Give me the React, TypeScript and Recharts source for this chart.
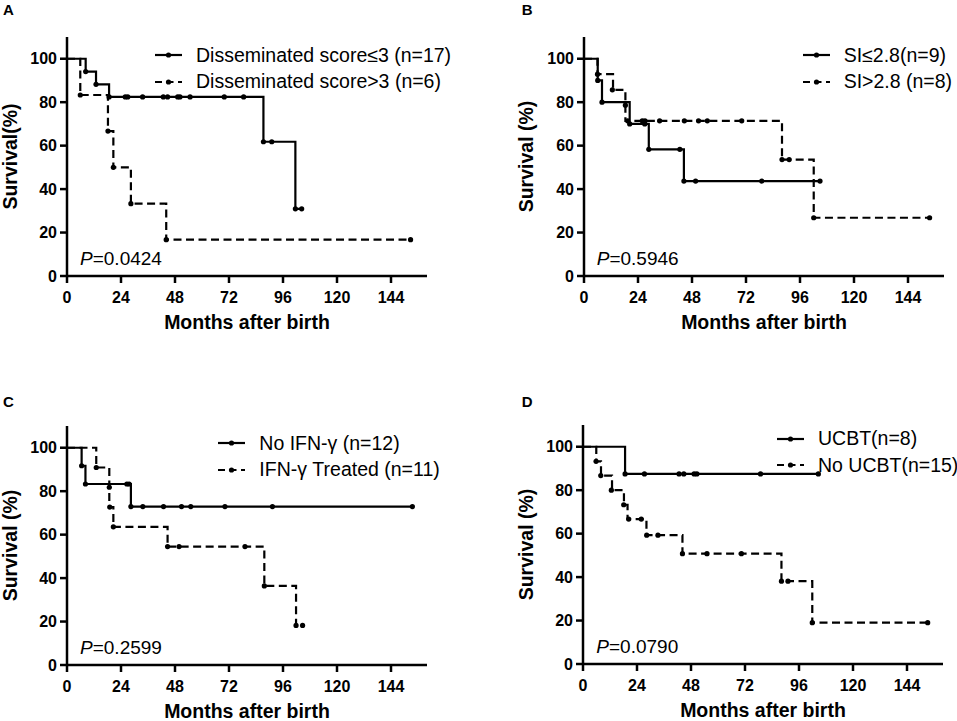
import React from 'react';
import { ComposedChart, Line, Scatter, XAxis, YAxis, Legend } from 'recharts';

const FONT = "'Liberation Sans', Arial, Helvetica, sans-serif";

// ---------- shared ticks ----------
const monthTicks = [0, 24, 48, 72, 96, 120, 144];
const survivalTicks = [0, 20, 40, 60, 80, 100];

type Pt = [number, number];

// ---------- Panel A ----------
const aLowSteps: Pt[] = [[0, 100], [8.3, 94.1], [12.9, 88.2], [18.7, 82.4], [87.3, 61.8], [101.5, 30.9], [104.3, 30.9]];
const aLowMarks: Pt[] = [[8.3, 94.1], [12.9, 88.2], [18.7, 82.4], [25.9, 82.4], [27.0, 82.4], [33.6, 82.4], [42.8, 82.4], [44.7, 82.4], [49.2, 82.4], [50.2, 82.4], [54.7, 82.4], [69.9, 82.4], [78.5, 82.4], [87.3, 61.8], [91.0, 61.8], [101.5, 30.9], [104.3, 30.9]];
const aHighSteps: Pt[] = [[0, 100], [5.9, 83.3], [18.2, 66.7], [20.6, 50], [28.4, 33.3], [44.1, 16.7], [152.7, 16.7]];
const aHighMarks: Pt[] = [[5.9, 83.3], [18.2, 66.7], [20.6, 50], [28.4, 33.3], [44.1, 16.7], [152.7, 16.7]];

// ---------- Panel B ----------
const bLowSteps: Pt[] = [[0, 100], [6.1, 90], [8.0, 80], [20.3, 70], [28.8, 58.3], [44.4, 43.7], [104.9, 43.7]];
const bLowMarks: Pt[] = [[6.1, 90], [8.0, 80], [20.3, 70], [27.0, 70], [28.8, 58.3], [42.6, 58.3], [44.4, 43.7], [49.6, 43.7], [79.0, 43.7], [104.9, 43.7]];
const bHighSteps: Pt[] = [[0, 100], [6.0, 92.9], [12.9, 85.7], [18.4, 71.4], [88.0, 53.6], [102.1, 26.8], [153.6, 26.8]];
const bHighMarks: Pt[] = [[6.0, 92.9], [12.6, 85.7], [18.4, 78.6], [19.4, 71.4], [25.9, 71.4], [27.1, 71.4], [33.6, 71.4], [44.6, 71.4], [50.9, 71.4], [54.8, 71.4], [70.1, 71.4], [88.0, 53.6], [91.2, 53.6], [102.1, 26.8], [153.6, 26.8]];

// ---------- Panel C ----------
const cNoSteps: Pt[] = [[0, 100], [6.5, 91.7], [8.2, 83.3], [28.4, 72.9], [153.5, 72.9]];
const cNoMarks: Pt[] = [[6.5, 91.7], [8.2, 83.3], [26.6, 83.3], [27.6, 83.3], [28.4, 72.9], [33.7, 72.9], [42.9, 72.9], [50.9, 72.9], [55.0, 72.9], [70.2, 72.9], [91.3, 72.9], [153.5, 72.9]];
const cIfnSteps: Pt[] = [[0, 100], [13.0, 90.9], [18.8, 72.7], [20.6, 63.6], [44.7, 54.5], [87.7, 36.4], [101.8, 18.2], [104.7, 18.2]];
const cIfnMarks: Pt[] = [[13.0, 90.9], [18.8, 81.8], [19.0, 72.7], [20.6, 63.6], [44.7, 54.5], [49.8, 54.5], [79.1, 54.5], [87.7, 36.4], [101.8, 18.2], [104.7, 18.2]];

// ---------- Panel D ----------
const dUcbtSteps: Pt[] = [[0, 100], [18.7, 87.5], [104.6, 87.5]];
const dUcbtMarks: Pt[] = [[18.7, 87.5], [27.3, 87.5], [42.7, 87.5], [44.8, 87.5], [49.4, 87.5], [50.6, 87.5], [78.9, 87.5], [104.6, 87.5]];
const dNoSteps: Pt[] = [[0, 100], [5.9, 93.3], [8.0, 86.7], [12.9, 80], [18.2, 73.3], [19.8, 66.7], [28.2, 59.3], [44.2, 50.8], [88.2, 38.1], [101.9, 19.0], [153.2, 19.0]];
const dNoMarks: Pt[] = [[5.8, 93.3], [7.9, 86.7], [12.6, 80], [18.1, 73.3], [20.3, 66.7], [25.9, 66.7], [28.3, 59.3], [33.3, 59.3], [44.2, 50.8], [55.1, 50.8], [70.4, 50.8], [88.2, 38.1], [91.1, 38.1], [101.9, 19.0], [153.2, 19.0]];

// ---------- labels ----------
const panelLetters = ['A', 'B', 'C', 'D'];
const yTitles = ['Survival(%)', 'Survival (%)', 'Survival (%)', 'Survival (%)'];
const xTitle = 'Months after birth';
const pValues = ['0.0424', '0.5946', '0.2599', '0.0790'];
const seriesNames = [
  ['Disseminated score≤3 (n=17)', 'Disseminated score>3 (n=6)'],
  ['SI≤2.8(n=9)', 'SI>2.8 (n=8)'],
  ['No IFN-γ (n=12)', 'IFN-γ Treated (n=11)'],
  ['UCBT(n=8)', 'No UCBT(n=15)'],
];

const toRows = (pts: Pt[]) => pts.map(([x, y]) => ({ x, y }));

interface SeriesDef { name: string; steps: Pt[]; marks: Pt[]; dashed: boolean }
interface PanelDef {
  letter: string; yTitle: string; p: string; series: SeriesDef[];
  ox: number; oy: number; legendLeft: number; legendTop: number;
  letterX: number; letterY: number; yTitleX: number;
}

const stepSets: [Pt[], Pt[], Pt[], Pt[]][] = [
  [aLowSteps, aLowMarks, aHighSteps, aHighMarks],
  [bLowSteps, bLowMarks, bHighSteps, bHighMarks],
  [cNoSteps, cNoMarks, cIfnSteps, cIfnMarks],
  [dUcbtSteps, dUcbtMarks, dNoSteps, dNoMarks],
];

// extra room at the left of every chart so the rotated axis title is never clipped
const PAD = 24;

const layout = [
  { ox: 0, oy: 0, legendLeft: 155, legendTop: 41.5, letterX: 3, letterY: 2.3, yTitleX: 17 },
  { ox: 516.7, oy: 0, legendLeft: 286, legendTop: 41.5, letterX: 521.7, letterY: 2.3, yTitleX: 16 },
  { ox: 0, oy: 389, legendLeft: 218.3, legendTop: 40.5, letterX: 3, letterY: 394, yTitleX: 17 },
  { ox: 516.3, oy: 388.3, legendLeft: 260.7, legendTop: 37, letterX: 521.7, letterY: 394, yTitleX: 16.6 },
];

const panels: PanelDef[] = panelLetters.map((letter, i) => ({
  letter,
  yTitle: yTitles[i],
  p: pValues[i],
  series: [
    { name: seriesNames[i][0], steps: stepSets[i][0], marks: stepSets[i][1], dashed: false },
    { name: seriesNames[i][1], steps: stepSets[i][2], marks: stepSets[i][3], dashed: true },
  ],
  ...layout[i],
}));

const CHART_W = 440 + PAD;
const CHART_H = 332;
const MARGIN = { top: 37, right: 13, left: 27 + PAD, bottom: 26 };
const Y_AXIS_W = 40;
const X_AXIS_H = 30;
const DASH = '8 4.5';

const axisStroke = { stroke: '#000', strokeWidth: 2.5 };
const tickFont = { fill: '#000', fontSize: 16, fontWeight: 'bold' as const, fontFamily: FONT };

const renderMark = (props: any) => {
  const { cx, cy } = props;
  if (cx == null || cy == null) return <g />;
  return <circle cx={cx} cy={cy} r={2.6} fill="#000" />;
};

function LegendBox({ series }: { series: SeriesDef[] }) {
  return (
    <div style={{ fontFamily: FONT, fontSize: 19.5, color: '#000' }}>
      {series.map((s) => (
        <div key={s.name} style={{ display: 'flex', alignItems: 'center', height: 26.7, whiteSpace: 'nowrap' }}>
          <svg width={27} height={10} style={{ marginRight: 14, flex: 'none' }}>
            <line x1={0} y1={5} x2={27} y2={5} stroke="#000" strokeWidth={2.2} strokeDasharray={s.dashed ? '7 4.5' : undefined} />
            <circle cx={13.5} cy={5} r={2.6} fill="#000" />
          </svg>
          <span style={{ lineHeight: '26.7px' }}>{s.name}</span>
        </div>
      ))}
    </div>
  );
}

function Panel({ def }: { def: PanelDef }) {
  const plotLeft = MARGIN.left + Y_AXIS_W;
  const plotW = CHART_W - MARGIN.right - plotLeft;
  const plotTop = MARGIN.top;
  const plotBottom = CHART_H - MARGIN.bottom - X_AXIS_H;
  const tx = def.yTitleX + PAD;
  const yc = (plotTop + plotBottom) / 2;
  const XTitle = () => (
    <text x={plotLeft + plotW / 2} y={plotBottom + 53.3} textAnchor="middle" fill="#000"
      style={{ fontFamily: FONT, fontSize: 19.5, fontWeight: 'bold' }}>{xTitle}</text>
  );
  const YTitle = () => (
    <text x={tx} y={yc} transform={`rotate(-90, ${tx}, ${yc})`} textAnchor="middle" fill="#000"
      style={{ fontFamily: FONT, fontSize: 19.5, fontWeight: 'bold' }}>{def.yTitle}</text>
  );
  return (
    <div style={{ position: 'absolute', left: def.ox - PAD, top: def.oy, width: CHART_W, height: CHART_H }}>
      <ComposedChart width={CHART_W} height={CHART_H} margin={MARGIN}>
        <XAxis type="number" dataKey="x" domain={[0, 160]} ticks={monthTicks} interval={0} allowDataOverflow
          tick={tickFont} tickSize={7} tickMargin={9} height={X_AXIS_H}
          axisLine={axisStroke} tickLine={axisStroke} label={{ content: XTitle }} />
        <YAxis type="number" dataKey="y" domain={[0, 110]} ticks={survivalTicks} interval={0} allowDataOverflow
          tick={tickFont} tickSize={7} tickMargin={3} width={Y_AXIS_W}
          axisLine={axisStroke} tickLine={axisStroke} label={{ content: YTitle }} />
        {def.series.map((s) => (
          <Line key={'l' + s.name} name={s.name} data={toRows(s.steps)} dataKey="y" type="stepAfter"
            stroke="#000" strokeWidth={2.2} strokeDasharray={s.dashed ? DASH : undefined}
            dot={false} activeDot={false} isAnimationActive={false} />
        ))}
        {def.series.map((s) => (
          <Scatter key={'s' + s.name} name={s.name + ' marks'} data={toRows(s.marks)} dataKey="y"
            fill="#000" shape={renderMark} isAnimationActive={false} />
        ))}
        <Legend layout="vertical" align="center" verticalAlign="middle"
          wrapperStyle={{ left: def.legendLeft + PAD, top: def.legendTop, width: 300, height: 56 }}
          content={() => <LegendBox series={def.series} />} />
      </ComposedChart>
      <div style={{ position: 'absolute', left: 80 + PAD, top: 248.9, fontFamily: FONT, fontSize: 19, lineHeight: '19px', color: '#000', whiteSpace: 'nowrap' }}>
        <i>P</i>={def.p}
      </div>
    </div>
  );
}

export default function App() {
  return (
    <div style={{ position: 'absolute', left: 0, top: 0, width: 957, height: 721, overflow: 'hidden', background: '#fff' }}>
      {panels.map((p) => <Panel key={p.letter} def={p} />)}
      {panels.map((p) => (
        <div key={'letter' + p.letter} style={{ position: 'absolute', left: p.letterX, top: p.letterY, fontFamily: FONT, fontSize: 15, lineHeight: '15px', fontWeight: 'bold', color: '#000' }}>
          {p.letter}
        </div>
      ))}
    </div>
  );
}
